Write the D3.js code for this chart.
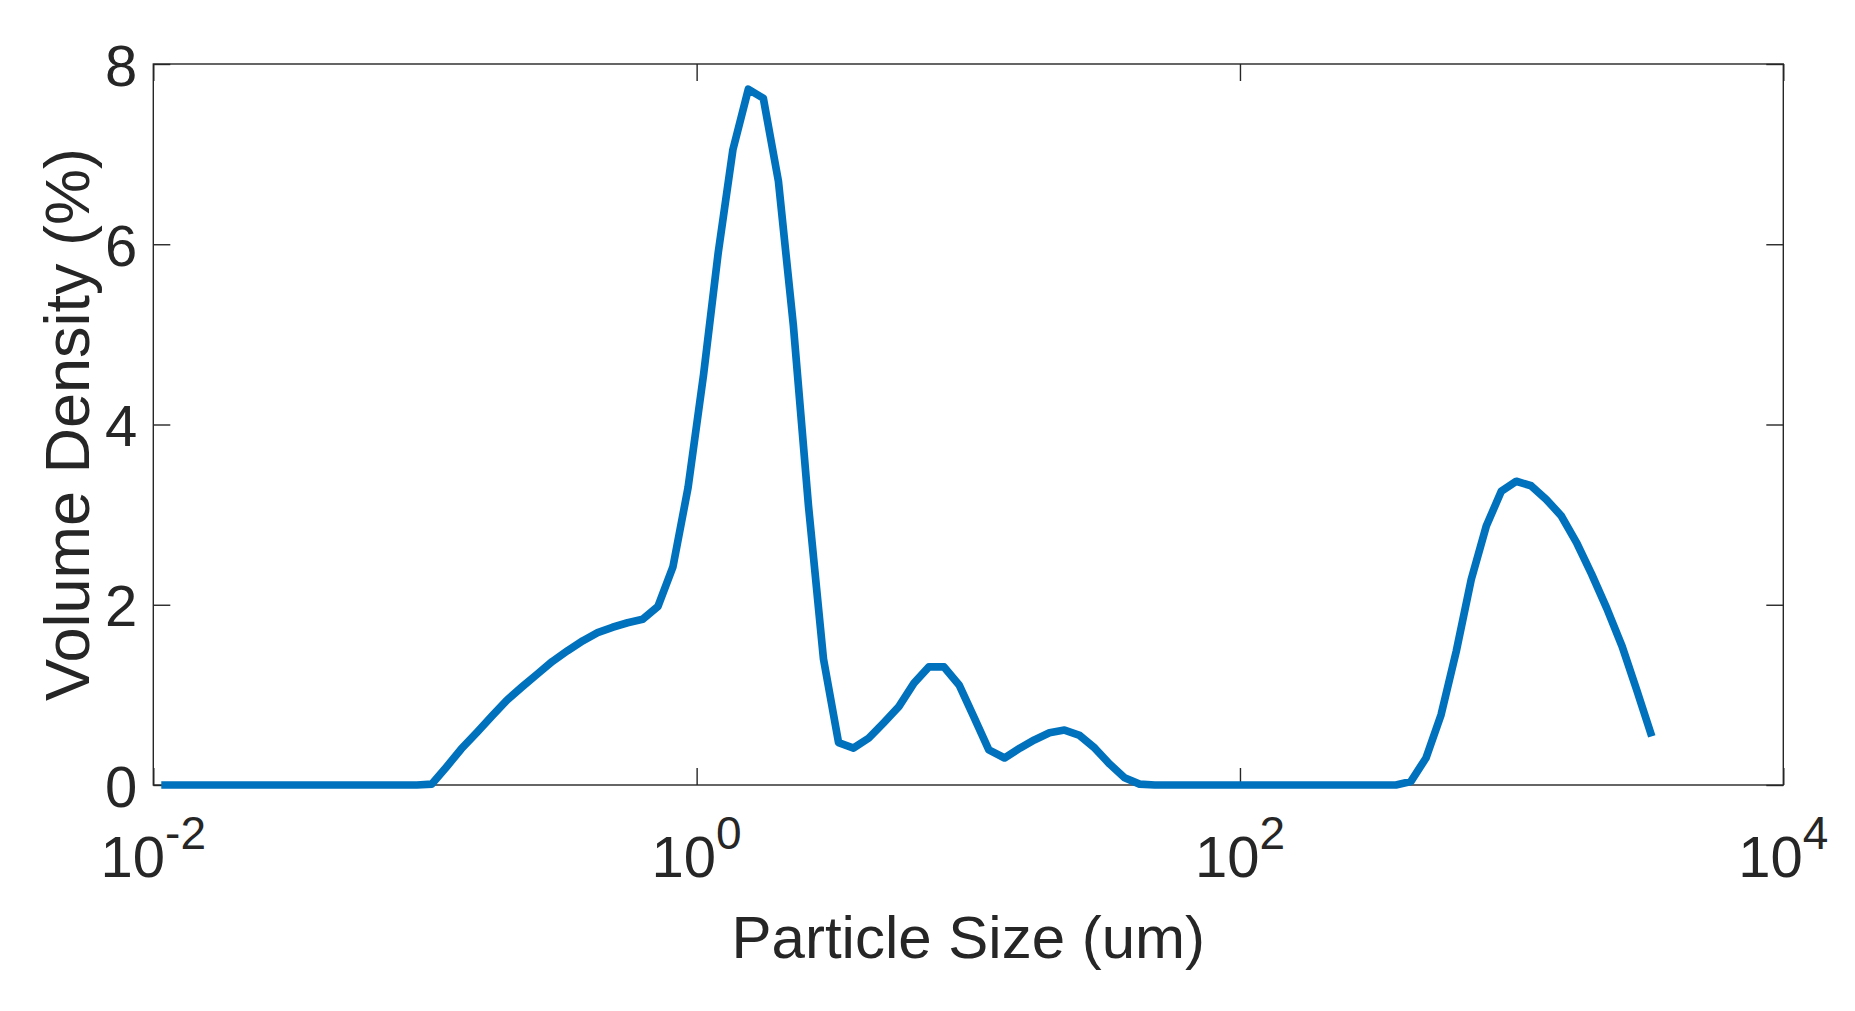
<!DOCTYPE html>
<html>
<head>
<meta charset="utf-8">
<script src="https://cdn.jsdelivr.net/npm/d3@7"></script>
<style>
  html, body { margin: 0; padding: 0; background: #ffffff; }
  svg { display: block; }
  text { font-family: "Liberation Sans", Arial, Helvetica, sans-serif; fill: #262626; }
</style>
</head>
<body>
<svg id="chart" width="1855" height="1011"></svg>
<script>
// Particle size class centres (um)
const particleSize = [
  0.0107, 0.0122, 0.0138, 0.0157, 0.0178, 0.0201, 0.0229, 0.0260, 0.0296, 0.0336,
  0.0382, 0.0434, 0.0494, 0.0561, 0.0636, 0.0724, 0.0822, 0.0934, 0.106, 0.120,
  0.136, 0.156, 0.177, 0.200, 0.228, 0.259, 0.294, 0.335, 0.381, 0.432,
  0.490, 0.557, 0.633, 0.720, 0.818, 0.930, 1.06, 1.20, 1.36, 1.55,
  1.76, 2.00, 2.27, 2.58, 2.93, 3.33, 3.78, 4.30, 4.88, 5.55,
  6.31, 7.16, 8.14, 9.25, 10.5, 11.9, 13.6, 15.5, 17.5, 19.9,
  22.6, 25.7, 29.2, 33.2, 37.6, 42.7, 48.6, 55.2, 62.8, 71.3,
  81.0, 92.1, 105, 118, 135, 154, 174, 198, 225, 256,
  290, 330, 375, 426, 484, 550, 625, 710, 806, 916,
  1040, 1180, 1340, 1520, 1740, 1970, 2240, 2550, 2890, 3280
];
// Volume density (%)
const volumeDensity = [
  0, 0, 0, 0, 0, 0, 0, 0, 0, 0,
  0, 0, 0, 0, 0, 0, 0, 0, 0.01, 0.2,
  0.4, 0.59, 0.77, 0.94, 1.09, 1.23, 1.37, 1.49, 1.6, 1.69,
  1.75, 1.8, 1.84, 1.98, 2.42, 3.3, 4.55, 5.9, 7.05, 7.72,
  7.62, 6.7, 5.1, 3.1, 1.4, 0.47, 0.41, 0.52, 0.69, 0.87,
  1.13, 1.31, 1.31, 1.11, 0.75, 0.39, 0.3, 0.41, 0.5, 0.58,
  0.61, 0.55, 0.41, 0.23, 0.08, 0.01, 0, 0, 0, 0,
  0, 0, 0, 0, 0, 0, 0, 0, 0, 0,
  0, 0, 0, 0.04, 0.3, 0.78, 1.48, 2.28, 2.87, 3.26,
  3.37, 3.32, 3.17, 2.99, 2.68, 2.34, 1.96, 1.54, 1.05, 0.54
];
const xTicks = [0.01, 1, 100, 10000];
const xTickBase = ["10", "10", "10", "10"];
const xTickExponent = ["-2", "0", "2", "4"];
const yTicks = [0, 2, 4, 6, 8];
const xLabel = "Particle Size (um)";
const yLabel = "Volume Density (%)";

(function () {
  const svg = d3.select("#chart");
  const pLeft = 153.3, pRight = 1783.3, pTop = 64, pBottom = 785;
  const x = d3.scaleLog().domain([0.01, 10000]).range([pLeft, pRight]);
  const y = d3.scaleLinear().domain([0, 8]).range([pBottom, pTop]);
  const axisColor = "#262626";
  const tickLen = 17;

  // frame
  svg.append("rect")
    .attr("x", x(0.01)).attr("y", y(8))
    .attr("width", x(10000) - x(0.01)).attr("height", y(0) - y(8))
    .attr("fill", "none").attr("stroke", axisColor).attr("stroke-width", 1.4);

  function styleAxis(g) {
    g.select(".domain").remove();
    g.selectAll(".tick line").attr("stroke", axisColor).attr("stroke-width", 1.4);
    g.selectAll(".tick text").remove();
  }
  svg.append("g").attr("transform", `translate(0,${pBottom})`)
    .call(d3.axisBottom(x).tickValues(xTicks).tickSize(-tickLen).tickFormat(""))
    .call(styleAxis);
  svg.append("g").attr("transform", `translate(0,${pTop})`)
    .call(d3.axisTop(x).tickValues(xTicks).tickSize(-tickLen).tickFormat(""))
    .call(styleAxis);
  svg.append("g").attr("transform", `translate(${pLeft},0)`)
    .call(d3.axisLeft(y).tickValues(yTicks).tickSize(-tickLen).tickFormat(""))
    .call(styleAxis);
  svg.append("g").attr("transform", `translate(${pRight},0)`)
    .call(d3.axisRight(y).tickValues(yTicks).tickSize(-tickLen).tickFormat(""))
    .call(styleAxis);

  // y tick labels
  svg.append("g").selectAll("text").data(yTicks).join("text")
    .attr("x", pLeft - 16)
    .attr("y", d => y(d) + 21.5)
    .attr("text-anchor", "end")
    .attr("font-size", 58)
    .text(d => d);

  // x tick labels with superscripts
  const xl = svg.append("g").selectAll("text").data(xTicks).join("text")
    .attr("x", d => x(d))
    .attr("y", pBottom + 92)
    .attr("text-anchor", "middle")
    .attr("font-size", 58);
  xl.append("tspan").text((d, i) => xTickBase[i]);
  xl.append("tspan").attr("dy", -28).attr("font-size", 46).text((d, i) => xTickExponent[i]);

  // axis labels
  svg.append("text")
    .attr("x", (pLeft + pRight) / 2).attr("y", 958)
    .attr("text-anchor", "middle").attr("font-size", 60)
    .text(xLabel);
  svg.append("text")
    .attr("transform", `translate(89,${(pTop + pBottom) / 2}) rotate(-90)`)
    .attr("text-anchor", "middle").attr("font-size", 63)
    .text(yLabel);

  // data line
  const pts = particleSize.map((s, i) => [s, volumeDensity[i]]);
  svg.append("path")
    .datum(pts)
    .attr("fill", "none")
    .attr("stroke", "#0072BD")
    .attr("stroke-width", 7.7)
    .attr("stroke-linejoin", "round")
    .attr("stroke-linecap", "butt")
    .attr("d", d3.line().x(d => x(d[0])).y(d => y(d[1])));
})();
</script>
</body>
</html>
